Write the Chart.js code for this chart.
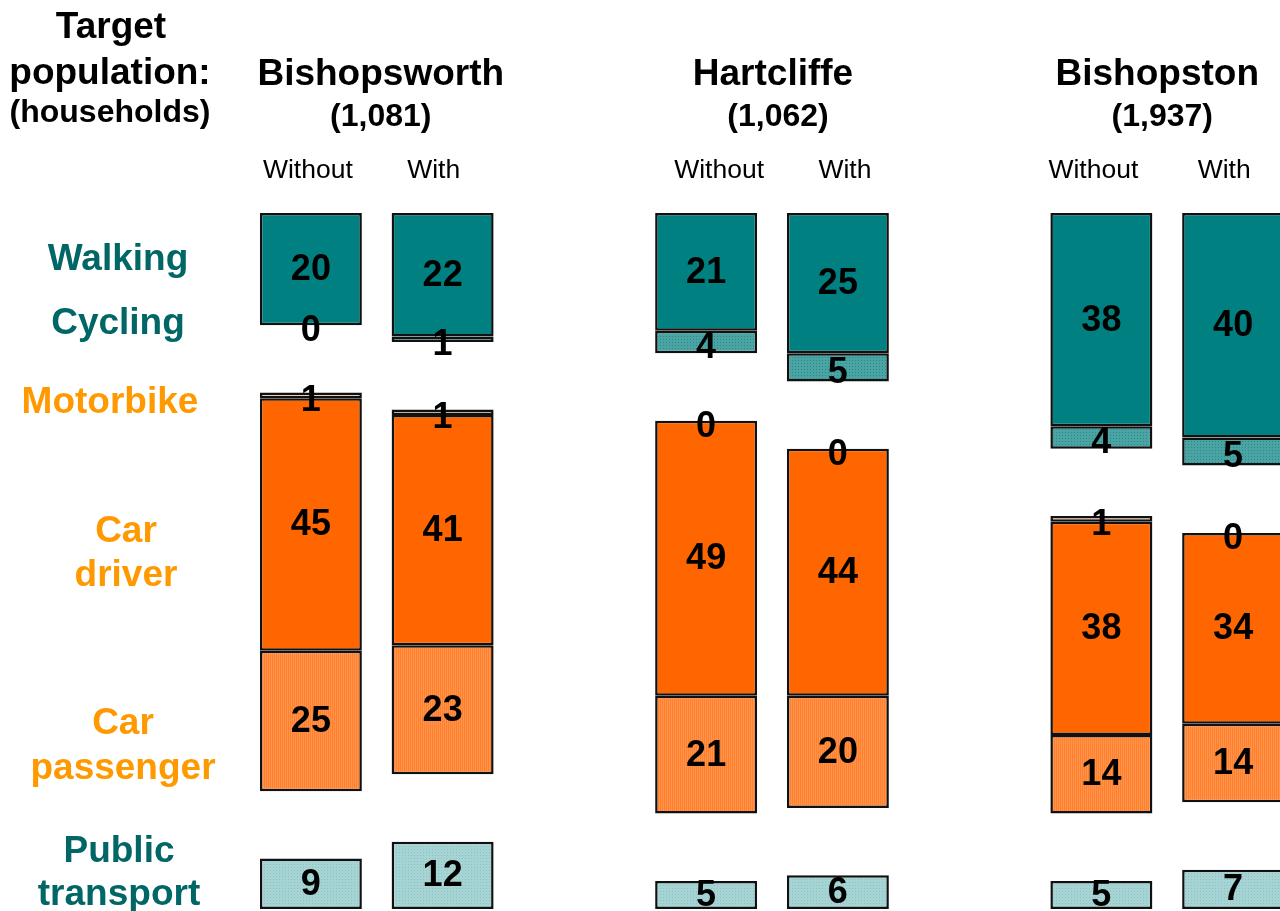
<!DOCTYPE html>
<html>
<head>
<meta charset="utf-8">
<script src="https://cdn.jsdelivr.net/npm/chart.js@4/dist/chart.umd.min.js"></script>
<style>
  body { margin: 0; background: #fff; overflow: hidden; }
  #modeChart { position: absolute; left: 0; top: 0; }
</style>
</head>
<body>
<canvas id="modeChart" width="1310" height="911"></canvas>
<script>
// areas and their target populations
const areas = ["Bishopsworth", "Hartcliffe", "Bishopston"];
const households = ["(1,081)", "(1,062)", "(1,937)"];
const columns = ["Without", "With", "Without", "With", "Without", "With"];

// mode share (%) per column
const walking = [20, 22, 21, 25, 38, 40];
const cycling = [0, 1, 4, 5, 4, 5];
const motorbike = [1, 1, 0, 0, 1, 0];
const carDriver = [45, 41, 49, 44, 38, 34];
const carPassenger = [25, 23, 21, 20, 14, 14];
const publicTransport = [9, 12, 5, 6, 5, 7];

// empty space between the mode groups in each column
const groupGap = 12;

const FONT = "'Liberation Sans', Arial, sans-serif";
const TEAL_TEXT = "#006666";
const ORANGE_TEXT = "#FF9900";

// small horizontal nudges for the headings
const areaShift = [4, 1, -10];
const householdShift = [4, 6, -5];
const columnShift = [-3, -9, 13, 7, -8, -9];

// side labels: text lines, colour, centre x, vertical centre of each line
const sideLabels = [
  { lines: ["Walking"], color: TEAL_TEXT, x: 118, y: [258] },
  { lines: ["Cycling"], color: TEAL_TEXT, x: 118, y: [322] },
  { lines: ["Motorbike"], color: ORANGE_TEXT, x: 110, y: [401] },
  { lines: ["Car", "driver"], color: ORANGE_TEXT, x: 126, y: [530, 574] },
  { lines: ["Car", "passenger"], color: ORANGE_TEXT, x: 123, y: [722, 767] },
  { lines: ["Public", "transport"], color: TEAL_TEXT, x: 119, y: [850, 893] },
];

// put a blank slot between each pair of columns
function spread(arr) {
  return [arr[0], arr[1], null, arr[2], arr[3], null, arr[4], arr[5]];
}
const slotLabels = spread(columns).map(v => v || "");

function makePattern(bg, fg, w, h, dots) {
  const c = document.createElement("canvas");
  c.width = w;
  c.height = h;
  const g = c.getContext("2d");
  g.fillStyle = bg;
  g.fillRect(0, 0, w, h);
  g.fillStyle = fg;
  dots.forEach(d => g.fillRect(d[0], d[1], d[2], d[3]));
  return g.createPattern(c, "repeat");
}

const ctx = document.getElementById("modeChart").getContext("2d");
const cyclingFill = makePattern("#4aa4a4", "#2d8a8a", 3, 3, [[0, 0, 1, 1]]);
const motorbikeFill = makePattern("#ffe0c8", "#ffc9a0", 2, 2, [[0, 0, 1, 2]]);
const passengerFill = makePattern("#ff9448", "#ff8030", 2, 2, [[0, 0, 1, 2]]);
const ptFill = makePattern("#a6d4d4", "#8cc4c4", 3, 3, [[0, 0, 1, 1]]);

function modeSet(label, data, fill, offset) {
  return {
    label: label,
    data: spread(data),
    backgroundColor: fill,
    borderColor: "#111",
    borderWidth: 2.5,
    borderSkipped: false,
    inflateAmount: 0,
    showValue: true,
    valueOffset: offset || 0,
  };
}
function gapSet() {
  return {
    label: "",
    data: spread(columns.map(() => groupGap)),
    backgroundColor: "rgba(0,0,0,0)",
    borderWidth: 0,
    showValue: false,
  };
}

// value labels in the middle of each segment
const valueLabels = {
  id: "valueLabels",
  afterDatasetsDraw(chart) {
    const c = chart.ctx;
    c.save();
    c.font = "bold 36px " + FONT;
    c.fillStyle = "#000";
    c.textAlign = "center";
    c.textBaseline = "middle";
    chart.data.datasets.forEach((ds, di) => {
      if (!ds.showValue) return;
      const meta = chart.getDatasetMeta(di);
      ds.data.forEach((v, i) => {
        if (v === null) return;
        const el = meta.data[i];
        const y = (el.y + el.base) / 2 + ds.valueOffset;
        c.fillText(String(v), el.x, y + 1);
      });
    });
    c.restore();
  },
};

// headings, column names and side labels
const annotations = {
  id: "annotations",
  afterDraw(chart) {
    const c = chart.ctx;
    const x = chart.scales.x;
    c.save();
    c.textAlign = "center";
    c.textBaseline = "middle";
    c.fillStyle = "#000";

    c.font = "bold 37px " + FONT;
    c.fillText("Target", 111, 28);
    c.fillText("population:", 110, 74);
    c.font = "bold 32px " + FONT;
    c.fillText("(households)", 110, 113);

    areas.forEach((name, g) => {
      const cx = (x.getPixelForValue(g * 3) + x.getPixelForValue(g * 3 + 1)) / 2;
      c.font = "bold 37px " + FONT;
      c.fillText(name, cx + areaShift[g], 75);
      c.font = "bold 32px " + FONT;
      c.fillText(households[g], cx + householdShift[g], 117);
    });

    c.font = "26.5px " + FONT;
    let k = 0;
    slotLabels.forEach((t, i) => {
      if (!t) return;
      c.fillText(t, x.getPixelForValue(i) + columnShift[k], 171);
      k++;
    });

    c.font = "bold 37px " + FONT;
    sideLabels.forEach(s => {
      c.fillStyle = s.color;
      s.lines.forEach((line, j) => c.fillText(line, s.x, s.y[j] + 2));
    });
    c.restore();
  },
};

new Chart(ctx, {
  type: "bar",
  data: {
    labels: slotLabels,
    datasets: [
      modeSet("Walking", walking, "#008080"),
      modeSet("Cycling", cycling, cyclingFill, 5),
      gapSet(),
      modeSet("Motorbike", motorbike, motorbikeFill, 5),
      modeSet("Car driver", carDriver, "#ff6600"),
      modeSet("Car passenger", carPassenger, passengerFill),
      gapSet(),
      modeSet("Public transport", publicTransport, ptFill),
    ],
  },
  options: {
    responsive: false,
    animation: false,
    devicePixelRatio: 1,
    layout: { padding: { left: 245, right: 11, top: 213, bottom: 2 } },
    datasets: {
      bar: { categoryPercentage: 1, barPercentage: 0.774 },
    },
    scales: {
      x: { stacked: true, display: false },
      y: { stacked: true, display: false, min: 0, max: 100 + 2 * groupGap, reverse: true },
    },
    plugins: {
      legend: { display: false },
      tooltip: { enabled: false },
    },
  },
  plugins: [valueLabels, annotations],
});
</script>
</body>
</html>
